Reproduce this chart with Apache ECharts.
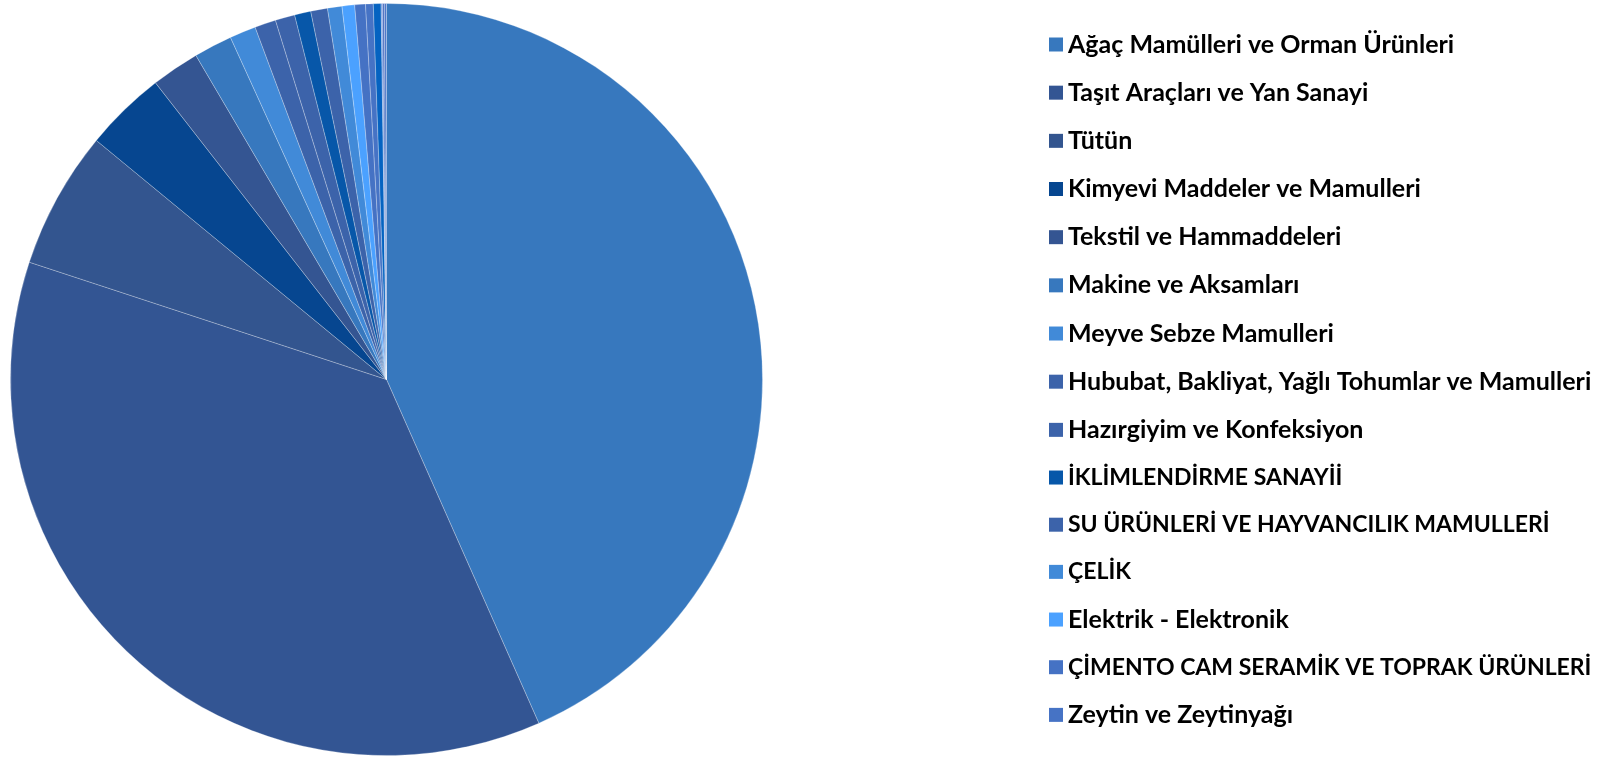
<!DOCTYPE html>
<html>
<head>
<meta charset="utf-8">
<title>Sektörel Dağılım</title>
<script src="https://cdn.jsdelivr.net/npm/echarts@6/dist/echarts.min.js"></script>
<style>
  html, body { margin: 0; padding: 0; background: #ffffff; }
  #chart { width: 1616px; height: 760px; }
</style>
</head>
<body>
<div id="chart"></div>
<script>
// Sector names, in slice order (clockwise from 12 o'clock)
const sectors = [
  'Ağaç Mamülleri ve Orman Ürünleri',
  'Taşıt Araçları ve Yan Sanayi',
  'Tütün',
  'Kimyevi Maddeler ve Mamulleri',
  'Tekstil ve Hammaddeleri',
  'Makine ve Aksamları',
  'Meyve Sebze Mamulleri',
  'Hububat, Bakliyat, Yağlı Tohumlar ve Mamulleri',
  'Hazırgiyim ve Konfeksiyon',
  'İKLİMLENDİRME SANAYİİ',
  'SU ÜRÜNLERİ VE HAYVANCILIK MAMULLERİ',
  'ÇELİK',
  'Elektrik - Elektronik',
  'ÇİMENTO CAM SERAMİK VE TOPRAK ÜRÜNLERİ',
  'Zeytin ve Zeytinyağı',
  'Demir ve Demir Dışı Metaller',
  'Deri ve Deri Mamulleri',
  'Halı',
  'Mücevher'
];

// Share of exports per sector (%)
const shares = [
  43.36, 36.69, 5.92, 3.50, 2.07, 1.65, 1.13, 0.91, 0.84, 0.70,
  0.72, 0.62, 0.54, 0.46, 0.33, 0.33, 0.06, 0.08, 0.09
];

// Slice fill colours
const colors = [
  '#3778be', '#335593', '#33558f', '#064690', '#345592', '#3778be',
  '#418ad8', '#3c63aa', '#3c63aa', '#0757a9', '#3c63aa', '#418ad8',
  '#4ba1ff', '#4572c4', '#4673c5', '#0563c1', '#6c93dc', '#4a6ec0',
  '#4f78c8'
];

// Sectors listed in the legend
const legendCount = 15;

const chart = echarts.init(document.getElementById('chart'), null, { renderer: 'canvas' });

const data = sectors.map((name, i) => ({
  name: name,
  value: shares[i],
  itemStyle: { color: colors[i] }
}));

// All-caps names get a slightly smaller size so their widths stay in proportion
const legendData = sectors.slice(0, legendCount).map(name => {
  const allCaps = name === name.toLocaleUpperCase('tr');
  return allCaps ? { name: name, textStyle: { fontSize: 23 } } : { name: name };
});

chart.setOption({
  animation: false,
  backgroundColor: '#ffffff',
  legend: {
    orient: 'vertical',
    left: 1044,
    top: 27,
    data: legendData,
    icon: 'rect',
    itemWidth: 14,
    itemHeight: 14,
    itemGap: 23.17,
    selectedMode: false,
    itemStyle: { borderWidth: 0 },
    textStyle: {
      fontFamily: 'Lato',
      fontWeight: 'bold',
      fontSize: 25,
      lineHeight: 24,
      color: '#000000',
      padding: [0, 0, 0, 0]
    }
  },
  series: [{
    type: 'pie',
    center: [386.5, 379.5],
    radius: 376,
    startAngle: 90,
    clockwise: true,
    avoidLabelOverlap: false,
    label: { show: false },
    labelLine: { show: false },
    emphasis: { disabled: true },
    itemStyle: {
      borderColor: 'rgba(255,255,255,0.35)',
      borderWidth: 0.75
    },
    data: data
  }]
});
</script>
</body>
</html>
